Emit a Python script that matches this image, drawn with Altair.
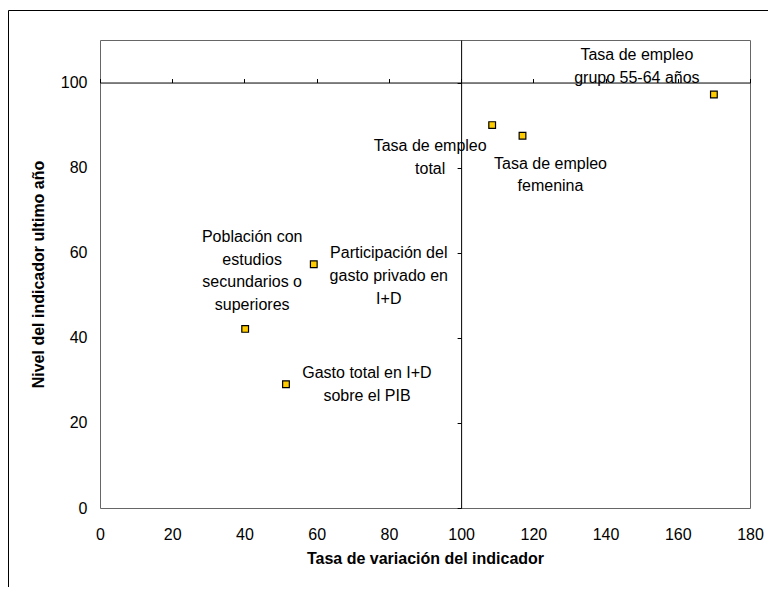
import altair as alt
import pandas as pd

# ---- data ----
names = [
    "Tasa de empleo grupo 55-64 años",
    "Tasa de empleo total",
    "Tasa de empleo femenina",
    "Población con estudios secundarios o superiores",
    "Participación del gasto privado en I+D",
    "Gasto total en I+D sobre el PIB",
]
labels = [
    "Tasa de empleo\ngrupo 55-64 años",
    "Tasa de empleo\ntotal",
    "Tasa de empleo\nfemenina",
    "Población con\nestudios\nsecundarios o\nsuperiores",
    "Participación del\ngasto privado en\nI+D",
    "Gasto total en I+D\nsobre el PIB",
]
variacion = [170.0, 108.6, 117.0, 40.2, 59.2, 51.5]
nivel = [97.2, 90.0, 87.5, 42.1, 57.3, 29.1]
x_ticks = [0, 20, 40, 60, 80, 100, 120, 140, 160, 180]
y_ticks = [0, 20, 40, 60, 80, 100]
x_domain = [0, 180]
y_domain = [0, 110]
x_cross = 100
y_cross = 100
x_title = "Tasa de variación del indicador"
y_title = "Nivel del indicador ultimo año"

df = pd.DataFrame({"name": names, "label": labels, "x": variacion, "y": nivel})

# ---- styling ----
W, H = 650, 468
FONT = "Liberation Sans"
# label offsets (pixels) relative to each point: style, not data
label_offsets = {
    names[0]: (-77, -47),
    names[1]: (-62, 13),
    names[2]: (28, 20),
    names[3]: (7, -100),
    names[4]: (75, -19),
    names[5]: (81, -19),
}

xs = alt.Scale(domain=x_domain, nice=False, zero=False)
ys = alt.Scale(domain=y_domain, nice=False, zero=False)

base = alt.Chart(df)

# crossing axes at x=100, y=100 (Excel style): moved inward with negative offsets
top_offset = -H * (y_domain[1] - y_cross) / (y_domain[1] - y_domain[0])
left_offset = -W * (x_cross - x_domain[0]) / (x_domain[1] - x_domain[0])

cross = base.mark_point(opacity=0).encode(
    x=alt.X("x:Q", scale=xs, axis=alt.Axis(
        orient="top", offset=top_offset, values=x_ticks,
        labels=False, title=None, grid=False, domain=True,
        domainColor="#000000", domainWidth=1, ticks=True, tickSize=4,
        tickColor="#000000", tickWidth=1)),
    y=alt.Y("y:Q", scale=ys, axis=alt.Axis(
        orient="left", offset=left_offset, values=y_ticks,
        labels=False, title=None, grid=False, domain=True,
        domainColor="#000000", domainWidth=1, ticks=True, tickSize=4,
        tickColor="#000000", tickWidth=1)),
)

points = base.mark_point(
    shape="square", filled=True, fill="#FFCC00", stroke="#000000",
    strokeWidth=1.2, size=45, opacity=1,
).encode(
    x=alt.X("x:Q", scale=xs, axis=alt.Axis(
        orient="bottom", values=x_ticks, title=x_title, grid=False,
        domain=False, ticks=False, labelPadding=18, labelFontSize=16,
        labelFlush=False, labelOverlap=False,
        labelColor="#000000", titleFontSize=16, titleFontWeight="bold",
        titleColor="#000000", titlePadding=8)),
    y=alt.Y("y:Q", scale=ys, axis=alt.Axis(
        orient="left", values=y_ticks, title=y_title, grid=False,
        domain=False, ticks=False, labelPadding=13, labelFontSize=16,
        labelFlush=False, labelOverlap=False,
        labelColor="#000000", titleFontSize=16, titleFontWeight="bold",
        titleColor="#000000", titlePadding=14)),
)

text_layers = []
for n in names:
    dx, dy = label_offsets[n]
    t = base.transform_filter(alt.datum.name == n).mark_text(
        align="center", baseline="top", lineBreak="\n", lineHeight=22.7,
        fontSize=16, font=FONT, color="#000000", dx=dx, dy=dy,
    ).encode(
        x=alt.X("x:Q", scale=xs, axis=None),
        y=alt.Y("y:Q", scale=ys, axis=None),
        text="label:N",
    )
    text_layers.append(t)

frame = alt.Chart(alt.Data(values=[{"k": 1}])).mark_rect(
    fillOpacity=0, stroke="#000000", strokeWidth=1, clip=False,
).encode(
    x=alt.value(-91.5), x2=alt.value(W + 100),
    y=alt.value(-29.5), y2=alt.value(H + 200),
)

chart = alt.layer(cross, frame, points, *text_layers).resolve_axis(
    x="independent", y="independent"
).properties(
    width=W, height=H,
    padding={"left": 92, "top": 32, "right": 18, "bottom": 79},
    autosize=alt.AutoSizeParams(type="none"),
).configure(
    font=FONT,
).configure_view(
    stroke="#666666", strokeWidth=1,
).configure_axis(
    labelFont=FONT, titleFont=FONT,
)

chart.save("out.html", embed_options={"renderer": "svg", "actions": False})
